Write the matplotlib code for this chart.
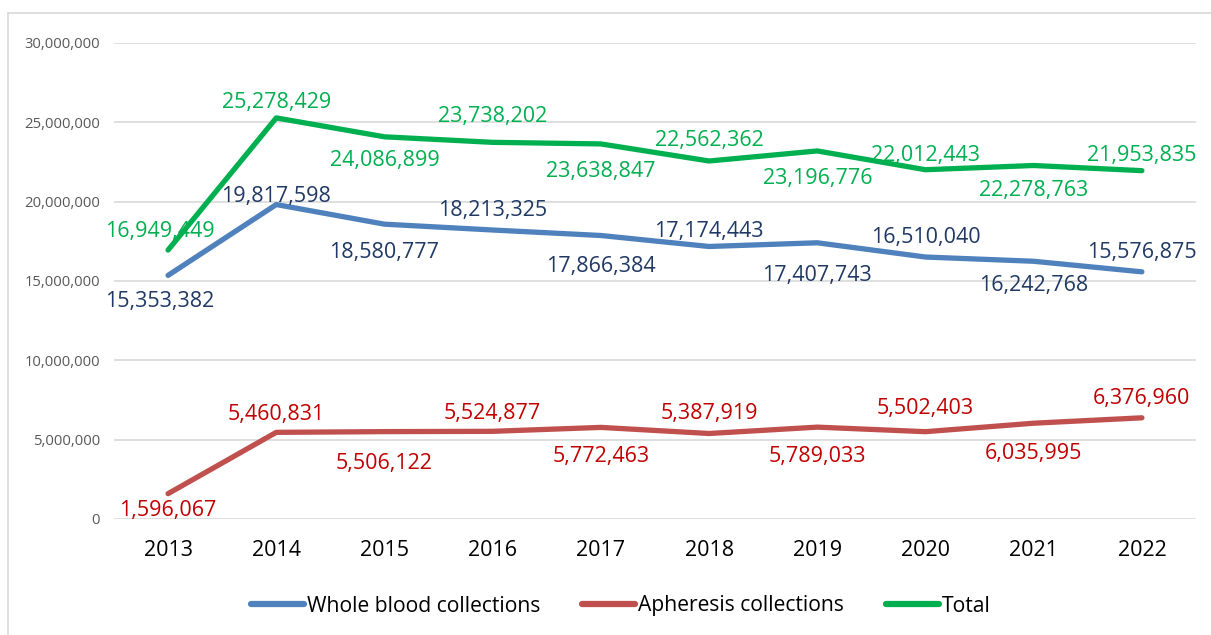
import matplotlib.pyplot as plt
from matplotlib.lines import Line2D
import numpy as np

years = ['2013', '2014', '2015', '2016', '2017', '2018', '2019', '2020', '2021', '2022']
whole_blood = [15353382, 19817598, 18580777, 18213325, 17866384,
               17174443, 17407743, 16510040, 16242768, 15576875]
apheresis = [1596067, 5460831, 5506122, 5524877, 5772463,
             5387919, 5789033, 5502403, 6035995, 6376960]
total = [16949449, 25278429, 24086899, 23738202, 23638847,
         22562362, 23196776, 22012443, 22278763, 21953835]

plt.rcParams['font.family'] = ['Open Sans', 'DejaVu Sans']

fig = plt.figure(figsize=(12.11, 6.35), dpi=100)
ax = fig.add_axes([0.0941, 0.1827, 0.8935, 0.7496])

x = np.arange(len(years))

# label nudges in pixels (positive = below the point), as placed in the original
whole_dy = [23, -11, 25, -23, 28, -18, 30, -23, 21, -22]
apher_dy = [14, -21, 29, -21, 26, -23, 26, -26, 27, -22]
total_dy = [-22, -18, 21, -29, 25, -23, 25, -17, 22, -18]
whole_dx = [-8, 0, 0, 0, 0, 0, 0, 0, 0, 0]
apher_dx = [0] * 10
total_dx = [-8, 0, 0, 0, 0, 0, 0, 0, 0, 0]
font_shift = 3  # Open Sans sits a bit higher than Calibri

series = [
    ('Whole blood collections', whole_blood, '#4F81BD', '#1F3864', whole_dx, whole_dy),
    ('Apheresis collections', apheresis, '#C0504D', '#C00000', apher_dx, apher_dy),
    ('Total', total, '#00B050', '#00B050', total_dx, total_dy),
]

for name, vals, lc, tc, dxs, dys in series:
    ax.plot(x, vals, color=lc, lw=3.8, solid_capstyle='round',
            solid_joinstyle='round', label=name, zorder=3)
    for i, v in enumerate(vals):
        ax.annotate(f'{v:,}', (x[i], v), xytext=(dxs[i], -(dys[i] + font_shift)),
                    textcoords='offset pixels', ha='center', va='center',
                    fontsize=15.5, color=tc, zorder=4)

ax.set_xlim(-0.5, len(years) - 0.5)
ax.set_ylim(0, 30000000)
ax.set_yticks(np.arange(0, 30000001, 5000000))
ax.set_yticklabels([f'{int(t):,}' for t in ax.get_yticks()],
                   fontsize=10.7, color='#595959')
ax.set_xticks(x)
ax.set_xticklabels(years, fontsize=15.5, color='#000000')
ax.tick_params(axis='both', length=0)
ax.tick_params(axis='x', pad=15)
ax.tick_params(axis='y', pad=10)
ax.grid(axis='y', color='#D9D9D9', lw=1.2)
ax.set_axisbelow(True)
for s in ax.spines.values():
    s.set_visible(False)

handles = [Line2D([0], [0], color=s[2], lw=4.5, solid_capstyle='round')
           for s in series]
fig.legend(handles, [s[0] for s in series], loc='center',
           bbox_to_anchor=(621 / 1211, 1 - 606 / 635), ncol=3, frameon=False,
           fontsize=15.2, handlelength=2.5, handletextpad=0.15,
           columnspacing=2.0)

# outer chart border
fig.add_artist(Line2D([8 / 1211, 8 / 1211], [0, 1 - 13 / 635],
                      transform=fig.transFigure, color='#D9D9D9', lw=1.2))
fig.add_artist(Line2D([8 / 1211, 1], [1 - 13 / 635, 1 - 13 / 635],
                      transform=fig.transFigure, color='#D9D9D9', lw=1.2))

fig.savefig('out.png', dpi=100)
